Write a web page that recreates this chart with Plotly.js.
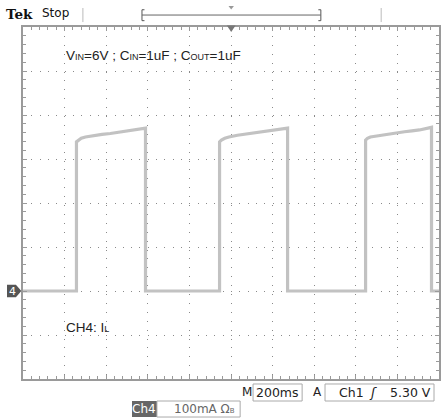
<!DOCTYPE html>
<html>
<head>
<meta charset="utf-8">
<script src="https://cdn.plot.ly/plotly-3.0.1.min.js"></script>
<style>html,body{margin:0;padding:0;background:#fff;}#chart{width:443px;height:419px;}</style>
</head>
<body>
<div id="chart"></div>
<script>
// Time axis (ms, 200 ms/div, trigger at centre) and inductor current (mA, 100 mA/div)
const timeMs = [-1000, -743, -743, -734, -720, -700, -666, -620, -580, -540, -500, -454, -411, -411,
                -55, -55, -46, -30, -10, 31, 75, 113, 150, 185, 230, 272, 272,
                647, 647, 656, 670, 695, 730, 762, 800, 834, 870, 906, 964, 964, 1000];
const currentMA = [0, 0, 339, 343, 347, 350, 353, 356, 358, 361, 364, 367, 370, 0,
                   0, 339, 343, 347, 350, 354, 357, 360, 362, 364, 367, 370, 0,
                   0, 343, 347, 350, 352, 355, 357, 359, 362, 364, 366, 372, 0, 0];
const xTicks = [-1000, -800, -600, -400, -200, 0, 200, 400, 600, 800, 1000];
const yTicks = [-200, -100, 0, 100, 200, 300, 400, 500, 600];

const trace = {
  x: timeMs, y: currentMA, type: 'scatter', mode: 'lines',
  line: {color: '#c2c2c2', width: 3.2}, hoverinfo: 'skip'
};

const sans = 'Liberation Sans, Arial, sans-serif';
const small = "<span style='font-size:9px'>";
function ann(text, x, y, opts) {
  return Object.assign({text: text, x: x, y: y, xref: 'paper', yref: 'paper', showarrow: false,
    xanchor: 'left', yanchor: 'middle', font: {family: sans, size: 13.5, color: '#222'}}, opts || {});
}
const dv = 'DejaVu Sans, sans-serif';

const annotations = [
  ann('V' + small + 'IN</span>=6V ; C' + small + 'IN</span>=1uF ; C' + small + 'OUT</span>=1uF', 0.099, 0.92),
  ann('CH4: I' + small + 'L</span>', 0.099, 0.145),
  ann('<b>Tek</b>', -0.045, 1.037, {font: {family: 'DejaVu Serif, serif', size: 13.5, color: '#111'}}),
  ann('Stop', 0.040, 1.039, {font: {family: dv, size: 12, color: '#111'}}),
  ann('4', -0.026, 0.25, {xanchor: 'center', font: {family: dv, size: 11, color: '#fff'}}),
  ann('M', 0.538, -0.038, {xanchor: 'center', font: {family: dv, size: 12, color: '#222'}}),
  ann('200ms', 0.612, -0.038, {xanchor: 'center', font: {family: dv, size: 12.5, color: '#222'}}),
  ann('A', 0.709, -0.038, {xanchor: 'center', font: {family: dv, size: 12, color: '#222'}}),
  ann('Ch1', 0.789, -0.038, {xanchor: 'center', font: {family: dv, size: 12.5, color: '#222'}}),
  ann('<i>ʃ</i>', 0.842, -0.038, {xanchor: 'center', font: {family: dv, size: 13, color: '#222'}}),
  ann('5.30 V', 0.985, -0.038, {xanchor: 'right', font: {family: dv, size: 12.5, color: '#222'}}),
  ann('Ch4', 0.292, -0.085, {xanchor: 'center', font: {family: dv, size: 12, color: '#fff'}}),
  ann('100mA Ω<span style="font-size:7px">B</span>', 0.358, -0.085, {font: {family: dv, size: 12, color: '#666'}})
];

const grey = '#9a9a9a';
const shapes = [
  // top bar separators and record bracket
  {type: 'line', xref: 'paper', yref: 'paper', x0: 0.144, x1: 0.144, y0: 1.014, y1: 1.054, line: {color: '#bbb', width: 1}},
  {type: 'line', xref: 'paper', yref: 'paper', x0: 0.861, x1: 0.861, y0: 1.014, y1: 1.054, line: {color: '#bbb', width: 1}},
  {type: 'path', xref: 'paper', yref: 'paper', path: 'M0.292,1.049 L0.286,1.049 L0.286,1.018 L0.292,1.018', line: {color: '#555', width: 1}},
  {type: 'path', xref: 'paper', yref: 'paper', path: 'M0.710,1.049 L0.716,1.049 L0.716,1.018 L0.710,1.018', line: {color: '#555', width: 1}},
  {type: 'line', xref: 'paper', yref: 'paper', x0: 0.286, x1: 0.716, y0: 1.034, y1: 1.034, line: {color: '#666', width: 1}},
  {type: 'path', xref: 'paper', yref: 'paper', path: 'M0.494,1.060 L0.507,1.060 L0.5005,1.050 Z', fillcolor: '#999', line: {width: 0}},
  // trigger position marker
  {type: 'path', xref: 'paper', yref: 'paper', path: 'M0.490,1.004 L0.511,1.004 L0.5005,0.986 Z', fillcolor: '#777', line: {width: 0}},
  // ground marker
  {type: 'path', xref: 'paper', yref: 'paper', path: 'M-0.0385,0.268 L-0.017,0.268 L-0.004,0.25 L-0.017,0.232 L-0.0385,0.232 Z', fillcolor: '#555', line: {width: 0}},
  // readout boxes
  {type: 'rect', xref: 'paper', yref: 'paper', x0: 0.553, x1: 0.671, y0: -0.0625, y1: -0.0142, line: {color: '#aaa', width: 1}},
  {type: 'rect', xref: 'paper', yref: 'paper', x0: 0.726, x1: 0.988, y0: -0.0625, y1: -0.0142, line: {color: '#aaa', width: 1}},
  {type: 'rect', xref: 'paper', yref: 'paper', x0: 0.262, x1: 0.322, y0: -0.108, y1: -0.0625, fillcolor: '#666', line: {width: 0}},
  {type: 'rect', xref: 'paper', yref: 'paper', x0: 0.322, x1: 0.522, y0: -0.108, y1: -0.0625, line: {color: '#aaa', width: 1}}
];

const axisCommon = {
  showgrid: true, gridcolor: '#8a8a8a', gridwidth: 1,
  zeroline: false, showticklabels: false,
  ticks: 'inside', ticklen: 4, tickcolor: grey, tickwidth: 1,
  showline: true, linecolor: grey, linewidth: 2, mirror: 'ticks',
  fixedrange: true
};

const layout = {
  width: 443, height: 419,
  margin: {l: 23, r: 4, t: 27, b: 40},
  paper_bgcolor: '#fff', plot_bgcolor: '#fff',
  showlegend: false,
  xaxis: Object.assign({}, axisCommon, {range: [-1000, 1000], tickmode: 'array', tickvals: xTicks,
    griddash: '1px,7.9px', minor: {dtick: 40, tick0: 0, ticks: 'inside', ticklen: 3, tickcolor: grey, showgrid: false}}),
  yaxis: Object.assign({}, axisCommon, {range: [-200, 600], tickmode: 'array', tickvals: yTicks,
    griddash: '1px,7.32px', minor: {dtick: 20, tick0: 0, ticks: 'inside', ticklen: 3, tickcolor: grey, showgrid: false}}),
  annotations: annotations,
  shapes: shapes
};

Plotly.newPlot('chart', [trace], layout, {displayModeBar: false, staticPlot: true});
</script>
</body>
</html>
